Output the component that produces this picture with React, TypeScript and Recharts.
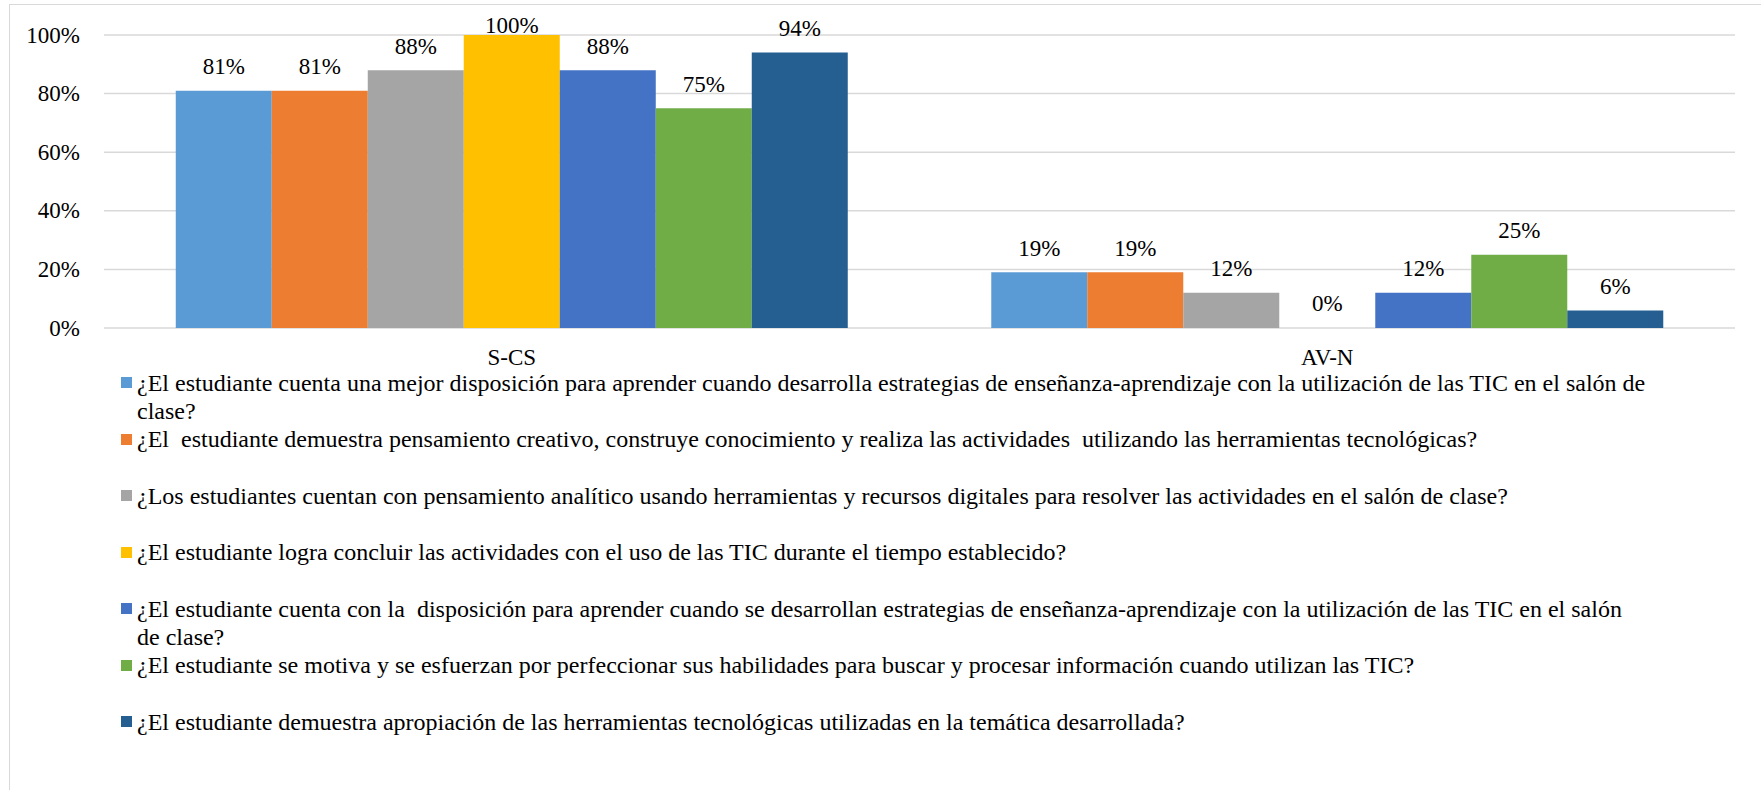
import React from 'react';
import { BarChart, Bar, XAxis, YAxis, CartesianGrid } from 'recharts';

const categories = ['S-CS', 'AV-N'];
const seriesNames = [
  '¿El estudiante cuenta una mejor disposición para aprender cuando desarrolla estrategias de enseñanza-aprendizaje con la utilización de las TIC en el salón de\nclase?',
  '¿El  estudiante demuestra pensamiento creativo, construye conocimiento y realiza las actividades  utilizando las herramientas tecnológicas?',
  '¿Los estudiantes cuentan con pensamiento analítico usando herramientas y recursos digitales para resolver las actividades en el salón de clase?',
  '¿El estudiante logra concluir las actividades con el uso de las TIC durante el tiempo establecido?',
  '¿El estudiante cuenta con la  disposición para aprender cuando se desarrollan estrategias de enseñanza-aprendizaje con la utilización de las TIC en el salón\nde clase?',
  '¿El estudiante se motiva y se esfuerzan por perfeccionar sus habilidades para buscar y procesar información cuando utilizan las TIC?',
  '¿El estudiante demuestra apropiación de las herramientas tecnológicas utilizadas en la temática desarrollada?',
];
const seriesColors = ['#5B9BD5', '#ED7D31', '#A5A5A5', '#FFC000', '#4472C4', '#70AD47', '#255E91'];
const scsValues = [0.81, 0.81, 0.88, 1.0, 0.88, 0.75, 0.94];
const avnValues = [0.19, 0.19, 0.12, 0, 0.12, 0.25, 0.06];
const yTicks = [0, 0.2, 0.4, 0.6, 0.8, 1];

const valuesByCategory = [scsValues, avnValues];
const data = categories.map((c, ci) => {
  const row: Record<string, any> = { category: c };
  seriesNames.forEach((_, si) => {
    row['s' + si] = valuesByCategory[ci][si];
  });
  return row;
});

const FONT = "'Liberation Serif', serif";
const FS = 23;
const FS_LEGEND = 24;

const pct = (v: number) => Math.round(v * 100) + '%';

const renderLabel = (props: any) => {
  const { x, y, width, value } = props;
  const v = Array.isArray(value) ? value[1] - value[0] : Number(value);
  const by = Math.max(Number(y) - 16.5, 33);
  return (
    <text x={Number(x) + Number(width) / 2} y={by} textAnchor="middle" style={{ fontFamily: FONT }} fontSize={FS} fill="#000">
      {pct(v)}
    </text>
  );
};

const renderTick = (anchor: 'middle' | 'end', fmt: (v: any) => string, dy: number) => (props: any) => {
  const { x, y, payload } = props;
  return (
    <text x={x} y={Number(y) + dy} textAnchor={anchor} style={{ fontFamily: FONT }} fontSize={FS} fill="#000">
      {fmt(payload.value)}
    </text>
  );
};

export default function App() {
  return (
    <div style={{ position: 'absolute', left: 0, top: 0, width: 1761, height: 790, background: '#fff', overflow: 'hidden', fontFamily: FONT }}>
      <div style={{ position: 'absolute', left: 9, top: 4, width: 1752, height: 786, borderLeft: '1.5px solid #d9d9d9', borderTop: '1.5px solid #d9d9d9', boxSizing: 'border-box' }} />
      <div style={{ position: 'absolute', left: 0, top: 0 }}>
        <BarChart
          width={1761}
          height={790}
          data={data}
          margin={{ top: 35, right: 26, bottom: 422, left: 8 }}
          barCategoryGap="8.8%"
          barGap={0}
        >
          <CartesianGrid vertical={false} stroke="#d9d9d9" strokeWidth={1.5} />
          <XAxis
            dataKey="category"
            height={40}
            axisLine={false}
            tickLine={false}
            tickSize={0}
            tickMargin={0}
            tick={renderTick('middle', (v) => String(v), 37)}
          />
          <YAxis
            width={96}
            domain={[0, 1]}
            ticks={yTicks}
            axisLine={false}
            tickLine={false}
            tickSize={0}
            tickMargin={24}
            tick={renderTick('end', pct, 7.5)}
          />
          {seriesNames.map((n, si) => (
            <Bar key={si} dataKey={'s' + si} name={n} fill={seriesColors[si]} isAnimationActive={false} minPointSize={0.01} label={renderLabel} />
          ))}
        </BarChart>
      </div>
      <div style={{ position: 'absolute', left: 121, top: 368.75, fontFamily: FONT, fontSize: FS_LEGEND, lineHeight: '28.25px', color: '#000' }}>
        {seriesNames.map((n, si) => (
          <div key={si} style={{ position: 'relative', minHeight: 56.5, paddingLeft: 16 }}>
            <span style={{ position: 'absolute', left: 0, top: 8.6, width: 11, height: 11, background: seriesColors[si] }} />
            <span style={{ whiteSpace: 'pre', fontFamily: FONT }}>{n}</span>
          </div>
        ))}
      </div>
    </div>
  );
}
